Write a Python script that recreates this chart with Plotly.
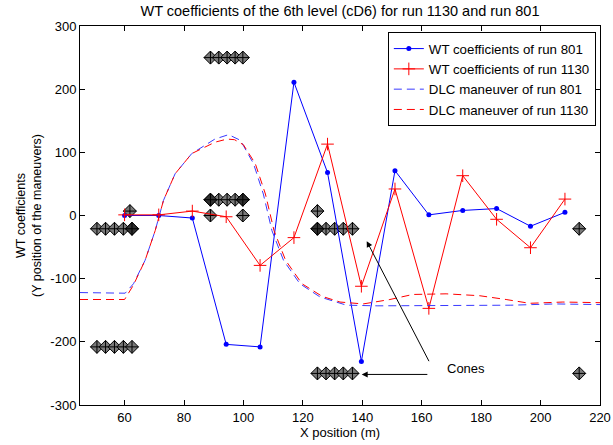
import plotly.graph_objects as go

# WT coefficient samples
wt_x = [60, 71.5, 82.8, 94.2, 105.6, 117, 128.3, 139.7, 151, 162.4, 173.8, 185.2, 196.6, 208.2]
wt_801 = [0, 0, -4, -204, -208, 211, 68, -231, 71, 1, 8, 11, -17, 5]
wt_1130 = [1, 1, 7, -2, -79, -35, 113, -112, 42, -147, 63, -6, -51, 26]

# DLC maneuver trajectories
dlc_x_801 = [45, 55, 60.2, 63, 66.9, 70.3, 73.1, 77, 82.6, 90.4, 95, 99, 103.4, 106.7, 109.6,
             113.5, 119, 125.8, 134.7, 145, 160, 175, 190, 205, 220]
dlc_y_801 = [-122, -123, -123, -108, -71, -24, 24, 66, 98, 121, 128, 119, 82, 34, -24,
             -71, -108, -129, -142, -143, -143, -142, -142, -140, -141]
dlc_x_1130 = [45, 55, 60, 63, 66.9, 70.3, 73.1, 77, 82.6, 90.4, 94.5, 97, 100, 104, 107.4,
              110.3, 114.2, 119.7, 126.5, 132.5, 140.3, 149.3, 157, 168.2, 179.5, 188.4, 196.3,
              207.5, 220]
dlc_y_1130 = [-133, -133, -133, -110, -71, -24, 24, 66, 98, 116, 121, 120, 112, 82, 34,
              -24, -71, -108, -128, -137, -140, -133, -125, -124, -127, -133, -139, -137, -138]

# Cone positions
cone_x = [50.7, 53.6, 56.6, 59.6, 62.5,
          50.7, 53.6, 56.6, 59.6, 62.5,
          61.8,
          88.9, 91.7, 94.5, 97.2, 99.8,
          88.9, 91.7, 94.5, 97.2, 99.8,
          88.9, 99.8,
          124.9,
          124.9, 127.8, 130.7, 133.6, 136.7,
          124.9, 127.8, 130.7, 133.6, 136.7,
          213, 213]
cone_y = [-21, -21, -21, -21, -21,
          -208, -208, -208, -208, -208,
          7,
          250, 250, 250, 250, 250,
          25, 25, 25, 25, 25,
          0, 0,
          7,
          -21, -21, -21, -21, -21,
          -250, -250, -250, -250, -250,
          -21, -250]
cone_dark_x = [62.5, 88.9, 99.8, 124.9]
cone_dark_y = [-21, 25, 25, -21]

x_ticks = [60, 80, 100, 120, 140, 160, 180, 200, 220]
y_ticks = [-300, -200, -100, 0, 100, 200, 300]

FONT = "Arial, Liberation Sans, sans-serif"

fig = go.Figure()

fig.add_trace(go.Scatter(x=cone_x, y=cone_y, mode="markers", showlegend=False,
                         marker=dict(symbol="diamond-cross", size=10, color="#7a7a7a",
                                     line=dict(color="black", width=1))))
fig.add_trace(go.Scatter(x=cone_dark_x, y=cone_dark_y, mode="markers", showlegend=False,
                         marker=dict(symbol="diamond-cross", size=10, color="#303030",
                                     line=dict(color="black", width=1))))

fig.add_trace(go.Scatter(x=wt_x, y=wt_801, mode="lines+markers", name="WT coefficients of run 801",
                         line=dict(color="#0000ff", width=1),
                         marker=dict(symbol="circle", size=5, color="#0000ff")))
fig.add_trace(go.Scatter(x=wt_x, y=wt_1130, mode="lines+markers", name="WT coefficients of run 1130",
                         line=dict(color="#ff0000", width=1),
                         marker=dict(symbol="cross-thin", size=9,
                                     line=dict(color="#ff0000", width=1))))
fig.add_trace(go.Scatter(x=dlc_x_801, y=dlc_y_801, mode="lines", name="DLC maneuver of run 801",
                         line=dict(color="#3a3aff", width=1, dash="8px,5px")))
fig.add_trace(go.Scatter(x=dlc_x_1130, y=dlc_y_1130, mode="lines", name="DLC maneuver of run 1130",
                         line=dict(color="#ff0000", width=1, dash="8px,5px")))

fig.add_annotation(x=139.8, y=-251.6, ax=162.4, ay=-251.6, xref="x", yref="y",
                   axref="x", ayref="y", showarrow=True, arrowhead=2, arrowsize=1.2,
                   arrowwidth=1, arrowcolor="black", text="")
fig.add_annotation(x=141.5, y=-40.6, ax=162.7, ay=-233, xref="x", yref="y",
                   axref="x", ayref="y", showarrow=True, arrowhead=2, arrowsize=1.2,
                   arrowwidth=1, arrowcolor="black", text="")
fig.add_annotation(x=175, y=-242, xref="x", yref="y", text="Cones", showarrow=False,
                   font=dict(family=FONT, size=13, color="black"))

axis_common = dict(showline=True, linecolor="black", linewidth=1, mirror="ticks",
                   ticks="inside", ticklen=5, tickcolor="black", showgrid=False,
                   zeroline=False, automargin=False,
                   tickfont=dict(family=FONT, size=13, color="black"))

fig.update_xaxes(range=[45, 220], tickvals=x_ticks, ticktext=[str(v) for v in x_ticks],
                 title=dict(text="X position (m)", font=dict(family=FONT, size=13, color="black"),
                            standoff=1),
                 **axis_common)
fig.update_yaxes(range=[-300, 300], tickvals=y_ticks, ticktext=[str(v) for v in y_ticks],
                 title=dict(text="WT coefficients<br>(Y position of the maneuvers)",
                            font=dict(family=FONT, size=12.5, color="black"), standoff=5),
                 **axis_common)

fig.update_layout(
    width=613, height=445,
    margin=dict(l=80, r=13, t=26, b=40, autoexpand=False),
    paper_bgcolor="white", plot_bgcolor="white",
    title=dict(text="WT coefficients of the 6th level (cD6) for run 1130 and run 801",
               x=0.5, xref="paper", y=1 - 11 / 445, yanchor="middle", automargin=False,
               font=dict(family=FONT, size=14.5, color="black")),
    font=dict(family=FONT, size=13, color="black"),
    legend=dict(x=0.992, y=0.983, xanchor="right", yanchor="top",
                bgcolor="white", bordercolor="black", borderwidth=1,
                font=dict(family=FONT, size=13.3, color="black"),
                tracegroupgap=0),
    showlegend=True,
)

fig.write_html("out.html", config={"displayModeBar": False},
               post_script="document.body.style.margin='0';document.body.style.overflow='hidden';")
